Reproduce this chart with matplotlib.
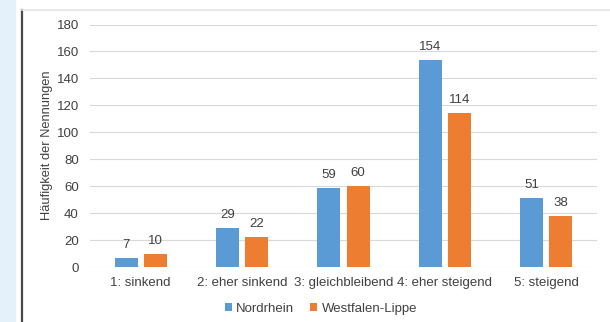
import matplotlib.pyplot as plt
import numpy as np
from matplotlib.patches import Rectangle
from matplotlib.lines import Line2D

plt.rcParams['font.family'] = ['Liberation Sans', 'DejaVu Sans']

categories = ['1: sinkend', '2: eher sinkend', '3: gleichbleibend', '4: eher steigend', '5: steigend']
nordrhein = [7, 29, 59, 154, 51]
westfalen_lippe = [10, 22, 60, 114, 38]
series_names = ['Nordrhein', 'Westfalen-Lippe']
yticks = [0, 20, 40, 60, 80, 100, 120, 140, 160, 180]

W, H = 610, 322
fig = plt.figure(figsize=(W / 100, H / 100), dpi=100)
fig.patch.set_facecolor('white')

# page decoration: light blue strip, dark frame line on the left, grey line on top
fig.add_artist(Rectangle((0, 0), 15 / W, 1, transform=fig.transFigure, color='#E4F1FB', zorder=0))
fig.add_artist(Line2D([21.5 / W, 21.5 / W], [0, 1 - 10 / H], transform=fig.transFigure, color='#4a4a4a', lw=1.6))
fig.add_artist(Line2D([22 / W, 1], [1 - 9.5 / H, 1 - 9.5 / H], transform=fig.transFigure, color='#e3e3e3', lw=1.2))

ax = fig.add_axes([90 / W, 55 / H, 507 / W, 242.5 / H])
x = np.arange(len(categories))
bw = 0.227
gap = 0.06
blue = '#5B9BD5'
orange = '#ED7D31'
txt = '#404040'

b1 = ax.bar(x - (bw + gap) / 2, nordrhein, bw, color=blue, label=series_names[0], zorder=3)
b2 = ax.bar(x + (bw + gap) / 2, westfalen_lippe, bw, color=orange, label=series_names[1], zorder=3)

for bars, vals in ((b1, nordrhein), (b2, westfalen_lippe)):
    for r, v in zip(bars, vals):
        ax.annotate(str(v), (r.get_x() + r.get_width() / 2, v), xytext=(0, 5),
                    textcoords='offset points', ha='center', va='bottom',
                    fontsize=9.5, color=txt)

ax.set_xlim(-0.5, len(categories) - 0.5)
ax.set_ylim(0, 180)
ax.set_yticks(yticks)
ax.set_xticks(x)
ax.set_xticklabels(categories)
ax.tick_params(axis='both', length=0, labelsize=9.5, colors=txt)
ax.tick_params(axis='y', pad=8)
ax.tick_params(axis='x', pad=7)
ax.grid(axis='y', color='#d9d9d9', lw=0.8, zorder=0)
for s in ax.spines.values():
    s.set_visible(False)

fig.text(47 / W, 1 - 145 / H, 'Häufigkeit der Nennungen', rotation=90, ha='center', va='center',
         fontsize=9.3, color=txt)

fig.legend(handles=[b1, b2], loc='center', bbox_to_anchor=(321 / W, 1 - 309 / H), ncol=2,
           frameon=False, fontsize=9.5, handlelength=0.55, handleheight=0.55, handletextpad=0.3,
           columnspacing=1.2, labelcolor=txt)

fig.savefig('out.png', dpi=100)
